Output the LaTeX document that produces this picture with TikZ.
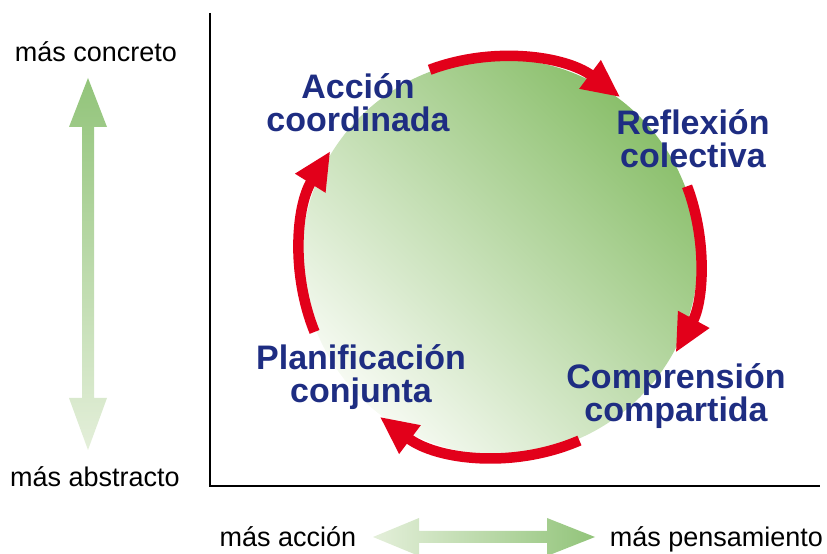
\documentclass[tikz,border=0pt]{standalone}
\usepackage{fontspec}
\setmainfont{Liberation Sans}
\usetikzlibrary{arrows.meta}
\definecolor{ringred}{HTML}{E2001A}
\definecolor{navy}{HTML}{1E2D82}
\definecolor{gdark}{HTML}{8ABF6B}
\definecolor{glight}{HTML}{F6FAF2}
\definecolor{adark}{HTML}{92C47A}
\definecolor{alight}{HTML}{E4EFDA}
\begin{document}
\begin{tikzpicture}[x=1pt,y=1pt,
  cyc/.style={draw=ringred, line width=10.5pt, -{Triangle[length=38pt,width=33pt]}},
  lab/.style={font=\fontsize{34}{33}\selectfont\bfseries, text=navy, align=center, inner sep=0pt},
  axlab/.style={font=\fontsize{27}{30}\selectfont, inner sep=0pt, anchor=base},
  axisline/.style={draw=black, line width=1.2pt}]
\useasboundingbox (0,0) rectangle (827,554);
% axes
\coordinate (ytop) at (210,541);
\coordinate (orig) at (210,68);
\coordinate (xend) at (820,68);
\draw[axisline] (ytop) -- (orig) -- (xend);
% vertical gradient arrow
\shade[top color=adark, bottom color=alight]
  (88,476) -- (107,427) -- (94,427) -- (94,156) -- (107,156) -- (88,104)
  -- (69,156) -- (82,156) -- (82,427) -- (69,427) -- cycle;
% horizontal gradient arrow
\shade[left color=alight, right color=adark]
  (373,17) -- (419,36) -- (419,23) -- (547,23) -- (547,36) -- (595,17)
  -- (547,-2) -- (547,11) -- (419,11) -- (419,-2) -- cycle;
% axis labels
\node[axlab] (conc) at (96,492) {más concreto};
\node[axlab] (abst) at (95,67) {más abstracto};
\node[axlab] (acc) at (288,7) {más acción};
\node[axlab] (pens) at (716.5,7) {más pensamiento};
% disc
\node[circle, minimum size=396pt, inner sep=0pt, top color=gdark, bottom color=glight, shading angle=-45] (disc) at (500,297) {};
% cycle arcs
\draw[cyc] (disc.center) ++(110.6:200) arc[start angle=110.6, end angle=53, radius=200];
\draw[cyc] (disc.center) ++(20.7:200) arc[start angle=20.7, end angle=-28.6, radius=200];
\draw[cyc] (disc.center) ++(-66.6:200) arc[start angle=-66.6, end angle=-127, radius=200];
\draw[cyc] (disc.center) ++(202:200) arc[start angle=202, end angle=148, radius=200];
% labels (base = baseline of last line)
\node[lab, anchor=base] (accion) at (358,422) {Acción\\coordinada};
\node[lab, anchor=base] (reflex) at (693,386) {Reflexión\\colectiva};
\node[lab, anchor=base] (compr) at (676,132) {Comprensión\\compartida};
\node[lab, anchor=base] (planif) at (361,151) {Planificación\\conjunta};
\end{tikzpicture}
\end{document}
